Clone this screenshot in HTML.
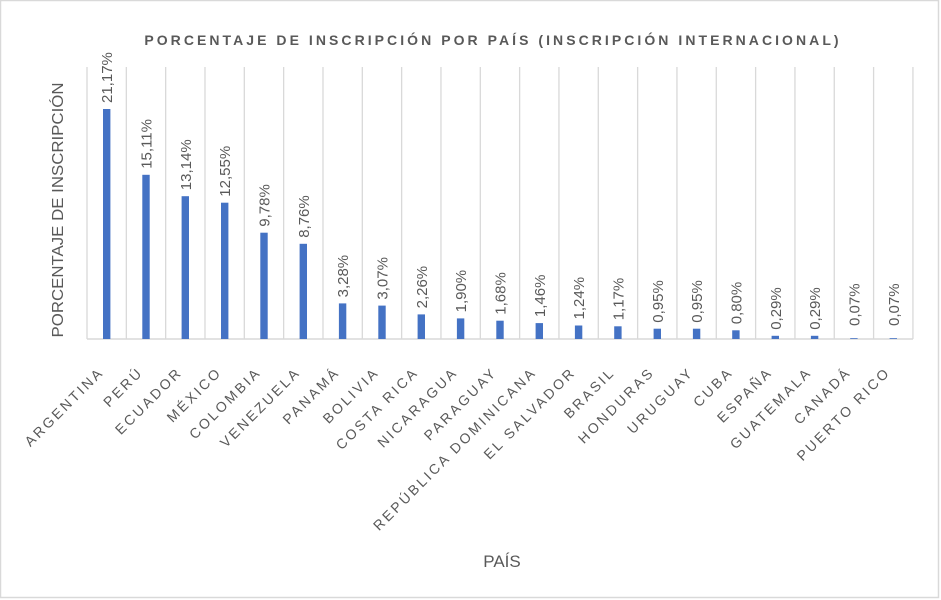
<!DOCTYPE html>
<html><head><meta charset="utf-8"><style>
html,body{margin:0;padding:0;background:#fff;}
svg{display:block;font-family:"Liberation Sans",sans-serif;}
</style></head><body>
<svg width="941" height="600" viewBox="0 0 941 600" xmlns="http://www.w3.org/2000/svg">
<rect x="0.5" y="0.5" width="938" height="597" fill="#fff" stroke="#d9d9d9" stroke-width="1.5"/>
<text x="493" y="45" text-anchor="middle" font-size="14" font-weight="bold" fill="#595959" letter-spacing="3.05">PORCENTAJE DE INSCRIPCIÓN POR PAÍS (INSCRIPCIÓN INTERNACIONAL)</text>
<text transform="translate(63,210) rotate(-90)" text-anchor="middle" font-size="16" fill="#595959" textLength="255" lengthAdjust="spacingAndGlyphs">PORCENTAJE DE INSCRIPCIÓN</text>
<text x="502" y="567" text-anchor="middle" font-size="17" fill="#595959">PAÍS</text>
<g stroke="#d9d9d9" stroke-width="1.3">
<line x1="87" y1="67" x2="87" y2="339"/><line x1="126.33" y1="67" x2="126.33" y2="339"/><line x1="165.66" y1="67" x2="165.66" y2="339"/><line x1="204.99" y1="67" x2="204.99" y2="339"/><line x1="244.32" y1="67" x2="244.32" y2="339"/><line x1="283.65" y1="67" x2="283.65" y2="339"/><line x1="322.98" y1="67" x2="322.98" y2="339"/><line x1="362.31" y1="67" x2="362.31" y2="339"/><line x1="401.64" y1="67" x2="401.64" y2="339"/><line x1="440.97" y1="67" x2="440.97" y2="339"/><line x1="480.3" y1="67" x2="480.3" y2="339"/><line x1="519.63" y1="67" x2="519.63" y2="339"/><line x1="558.96" y1="67" x2="558.96" y2="339"/><line x1="598.29" y1="67" x2="598.29" y2="339"/><line x1="637.62" y1="67" x2="637.62" y2="339"/><line x1="676.95" y1="67" x2="676.95" y2="339"/><line x1="716.28" y1="67" x2="716.28" y2="339"/><line x1="755.61" y1="67" x2="755.61" y2="339"/><line x1="794.94" y1="67" x2="794.94" y2="339"/><line x1="834.27" y1="67" x2="834.27" y2="339"/><line x1="873.6" y1="67" x2="873.6" y2="339"/><line x1="912.93" y1="67" x2="912.93" y2="339"/>
<line x1="87" y1="339" x2="913" y2="339" stroke-width="1.5"/>
</g>
<g fill="#4472c4">
<rect x="103" y="109" width="7.4" height="230"/>
<rect x="142.3" y="174.8" width="7.4" height="164.2"/>
<rect x="181.6" y="196.2" width="7.4" height="142.8"/>
<rect x="221" y="202.7" width="7.4" height="136.3"/>
<rect x="260.3" y="232.7" width="7.4" height="106.3"/>
<rect x="299.6" y="243.8" width="7.4" height="95.2"/>
<rect x="338.9" y="303.4" width="7.4" height="35.6"/>
<rect x="378.3" y="305.6" width="7.4" height="33.4"/>
<rect x="417.6" y="314.4" width="7.4" height="24.6"/>
<rect x="456.9" y="318.4" width="7.4" height="20.6"/>
<rect x="496.3" y="320.7" width="7.4" height="18.3"/>
<rect x="535.6" y="323.1" width="7.4" height="15.9"/>
<rect x="574.9" y="325.5" width="7.4" height="13.5"/>
<rect x="614.2" y="326.3" width="7.4" height="12.7"/>
<rect x="653.6" y="328.7" width="7.4" height="10.3"/>
<rect x="692.9" y="328.7" width="7.4" height="10.3"/>
<rect x="732.2" y="330.3" width="7.4" height="8.7"/>
<rect x="771.6" y="335.8" width="7.4" height="3.2"/>
<rect x="810.9" y="335.8" width="7.4" height="3.2"/>
<rect x="850.2" y="338.2" width="7.4" height="0.8"/>
<rect x="889.6" y="338.2" width="7.4" height="0.8"/>
</g>
<g font-size="15" fill="#595959">
<text transform="translate(112.2,103) rotate(-90)">21,17%</text>
<text transform="translate(151.5,168.8) rotate(-90)">15,11%</text>
<text transform="translate(190.8,190.2) rotate(-90)">13,14%</text>
<text transform="translate(230.2,196.7) rotate(-90)">12,55%</text>
<text transform="translate(269.5,226.7) rotate(-90)">9,78%</text>
<text transform="translate(308.8,237.8) rotate(-90)">8,76%</text>
<text transform="translate(348.1,297.4) rotate(-90)">3,28%</text>
<text transform="translate(387.5,299.6) rotate(-90)">3,07%</text>
<text transform="translate(426.8,308.4) rotate(-90)">2,26%</text>
<text transform="translate(466.1,312.4) rotate(-90)">1,90%</text>
<text transform="translate(505.5,314.7) rotate(-90)">1,68%</text>
<text transform="translate(544.8,317.1) rotate(-90)">1,46%</text>
<text transform="translate(584.1,319.5) rotate(-90)">1,24%</text>
<text transform="translate(623.4,320.3) rotate(-90)">1,17%</text>
<text transform="translate(662.8,322.7) rotate(-90)">0,95%</text>
<text transform="translate(702.1,322.7) rotate(-90)">0,95%</text>
<text transform="translate(741.4,324.3) rotate(-90)">0,80%</text>
<text transform="translate(780.8,329.8) rotate(-90)">0,29%</text>
<text transform="translate(820.1,329.8) rotate(-90)">0,29%</text>
<text transform="translate(859.4,326) rotate(-90)">0,07%</text>
<text transform="translate(898.8,326) rotate(-90)">0,07%</text>
</g>
<g font-size="14" fill="#595959" letter-spacing="2.6" text-anchor="end">
<text transform="translate(104.7,373) rotate(-45)">ARGENTINA</text>
<text transform="translate(144,373) rotate(-45)">PERÚ</text>
<text transform="translate(183.3,373) rotate(-45)">ECUADOR</text>
<text transform="translate(222.7,373) rotate(-45)">MÉXICO</text>
<text transform="translate(262,373) rotate(-45)">COLOMBIA</text>
<text transform="translate(301.3,373) rotate(-45)">VENEZUELA</text>
<text transform="translate(340.6,373) rotate(-45)">PANAMÁ</text>
<text transform="translate(380,373) rotate(-45)">BOLIVIA</text>
<text transform="translate(419.3,373) rotate(-45)">COSTA RICA</text>
<text transform="translate(458.6,373) rotate(-45)">NICARAGUA</text>
<text transform="translate(498,373) rotate(-45)">PARAGUAY</text>
<text transform="translate(537.3,373) rotate(-45)">REPÚBLICA DOMINICANA</text>
<text transform="translate(576.6,373) rotate(-45)">EL SALVADOR</text>
<text transform="translate(615.9,373) rotate(-45)">BRASIL</text>
<text transform="translate(655.3,373) rotate(-45)">HONDURAS</text>
<text transform="translate(694.6,373) rotate(-45)">URUGUAY</text>
<text transform="translate(733.9,373) rotate(-45)">CUBA</text>
<text transform="translate(773.3,373) rotate(-45)">ESPAÑA</text>
<text transform="translate(812.6,373) rotate(-45)">GUATEMALA</text>
<text transform="translate(851.9,373) rotate(-45)">CANADÁ</text>
<text transform="translate(891.3,373) rotate(-45)">PUERTO RICO</text>
</g>
</svg>
</body></html>
